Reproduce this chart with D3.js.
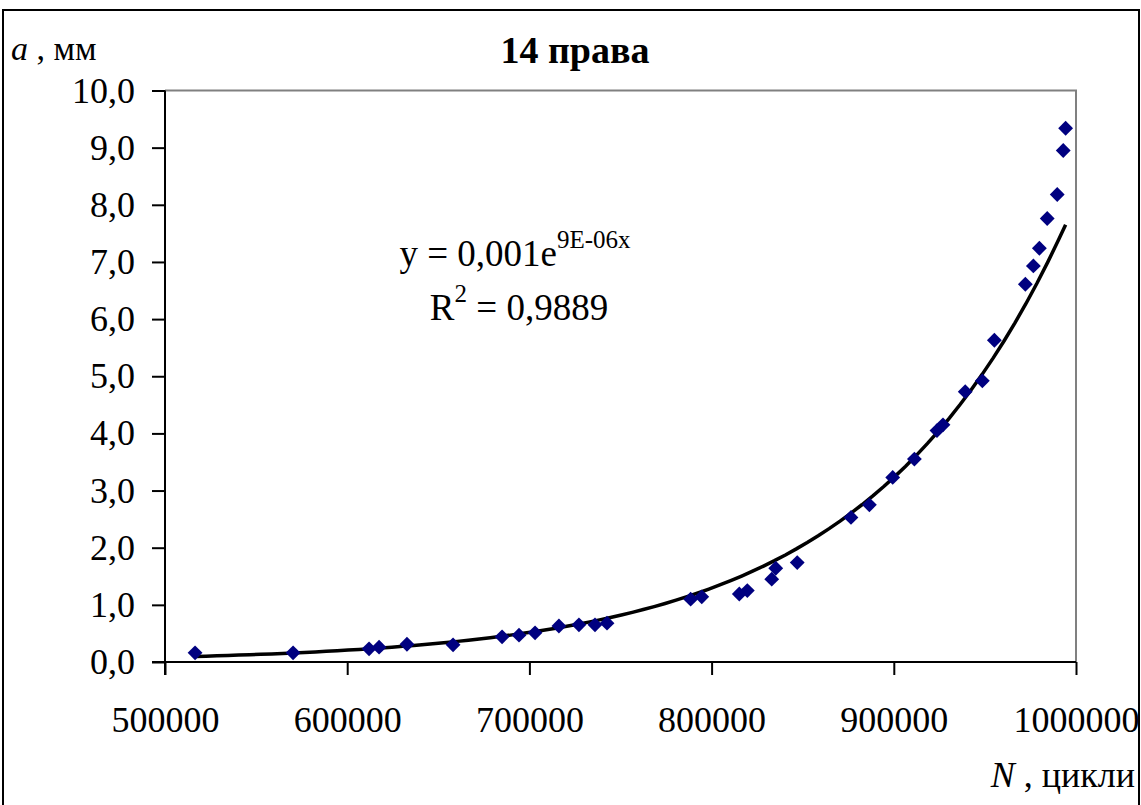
<!DOCTYPE html>
<html>
<head>
<meta charset="utf-8">
<title>14 права</title>
<style>
  body { margin: 0; background: #fff; }
  text { font-family: "Liberation Serif", "Times New Roman", serif; fill: #000; }
</style>
</head>
<body>
<script src="https://d3js.org/d3.v7.min.js"></script>
<script>
// data: N (cycles) and a (mm)
var cycles = [516500, 570300, 612000, 617500, 632800, 658100, 685000, 694300, 703100,
              716200, 727200, 736000, 742600, 788500, 794600, 815200, 819600, 833000,
              835200, 847000, 876500, 886600, 899400, 911300, 923700, 927000, 939200,
              948600, 955200, 972200, 976600, 979900, 984200, 989700, 993000, 994300];
var crack = [0.16, 0.16, 0.23, 0.26, 0.31, 0.30, 0.44, 0.47, 0.51,
             0.63, 0.65, 0.65, 0.68, 1.10, 1.14, 1.19, 1.25, 1.45,
             1.64, 1.74, 2.53, 2.75, 3.23, 3.55, 4.05, 4.15, 4.73,
             4.92, 5.63, 6.61, 6.93, 7.24, 7.76, 8.18, 8.95, 9.34];
var xTicks = [500000, 600000, 700000, 800000, 900000, 1000000];
var yTicks = [0, 1, 2, 3, 4, 5, 6, 7, 8, 9, 10];

var W = 1141, H = 805;
var plot = {left: 165, right: 1076, top: 90.5, bottom: 662};

var svg = d3.select("body").append("svg")
    .attr("width", W).attr("height", H);

// outer frame
svg.append("rect")
    .attr("x", 3).attr("y", 10).attr("width", 1136).attr("height", 810)
    .attr("fill", "#fff").attr("stroke", "#000").attr("stroke-width", 2);

var x = d3.scaleLinear().domain([500000, 1000000]).range([plot.left, plot.right]);
var y = d3.scaleLinear().domain([0, 10]).range([plot.bottom, plot.top]);

// plot area border (grey, top & right)
svg.append("path")
    .attr("d", "M" + plot.left + "," + plot.top + "H" + plot.right + "V" + plot.bottom)
    .attr("fill", "none").attr("stroke", "#808080").attr("stroke-width", 2);

var comma = function(v) { return d3.format(".1f")(v).replace(".", ","); };

// y axis
var yAxis = svg.append("g")
    .attr("transform", "translate(" + plot.left + ",0)")
    .call(d3.axisLeft(y).tickValues(yTicks).tickSize(13).tickPadding(17).tickFormat(comma));
// x axis
var xAxis = svg.append("g")
    .attr("transform", "translate(0," + plot.bottom + ")")
    .call(d3.axisBottom(x).tickValues(xTicks).tickSize(13).tickPadding(31).tickFormat(d3.format("d")));

[yAxis, xAxis].forEach(function(g) {
  g.select(".domain").attr("stroke", "#000").attr("stroke-width", 2);
  g.selectAll(".tick line").attr("stroke", "#000").attr("stroke-width", 2);
  g.selectAll(".tick text")
    .attr("font-size", 36).attr("fill", "#000");
});
// axes extend a tick length past the corner
yAxis.select(".domain").attr("d", "M0," + y(10) + "V" + (plot.bottom + 13));
xAxis.select(".domain").attr("d", "M" + (plot.left - 13) + ",0H" + plot.right);

// exponential trendline: least squares on ln(a)
var lnY = crack.map(Math.log);
var mx = d3.mean(cycles), my = d3.mean(lnY);
var b = d3.sum(cycles, function(v, i) { return (v - mx) * (lnY[i] - my); }) /
        d3.sum(cycles, function(v) { return (v - mx) * (v - mx); });
var a0 = Math.exp(my - b * mx);
var trendX = d3.range(d3.min(cycles), d3.max(cycles), 6000).concat([d3.max(cycles)]);
svg.append("path")
    .datum(trendX)
    .attr("fill", "none").attr("stroke", "#000").attr("stroke-width", 3.5)
    .attr("d", d3.line().x(function(d) { return x(d); })
                        .y(function(d) { return y(a0 * Math.exp(b * d)); }));

// markers (navy diamonds)
var diamond = d3.symbol().type(d3.symbolSquare).size(110);
svg.selectAll(".pt")
  .data(cycles)
  .enter().append("path")
    .attr("class", "pt")
    .attr("d", diamond)
    .attr("fill", "#000080")
    .attr("transform", function(d, i) {
      return "translate(" + x(d) + "," + y(crack[i]) + ") rotate(45)";
    });

// title
svg.append("text")
    .attr("x", 575).attr("y", 63).attr("text-anchor", "middle")
    .attr("font-size", 38).attr("font-weight", "bold")
    .text("14 права");

// axis titles
var ya = svg.append("text").attr("x", 11).attr("y", 60).attr("font-size", 34);
ya.append("tspan").attr("font-style", "italic").text("a");
ya.append("tspan").text(" , мм");

var xa = svg.append("text").attr("x", 1135).attr("y", 787).attr("font-size", 36)
    .attr("text-anchor", "end");
xa.append("tspan").attr("font-style", "italic").text("N");
xa.append("tspan").text(" , цикли");

// equation label
var eq = svg.append("text").attr("x", 515).attr("y", 266).attr("text-anchor", "middle")
    .attr("font-size", 37);
eq.append("tspan").text("y = 0,001e");
eq.append("tspan").attr("font-size", 25).attr("dy", -18).text("9E-06x");

var r2 = svg.append("text").attr("x", 519).attr("y", 320).attr("text-anchor", "middle")
    .attr("font-size", 37);
r2.append("tspan").text("R");
r2.append("tspan").attr("font-size", 25).attr("dy", -18).text("2");
r2.append("tspan").attr("dy", 18).text(" = 0,9889");
</script>
</body>
</html>
